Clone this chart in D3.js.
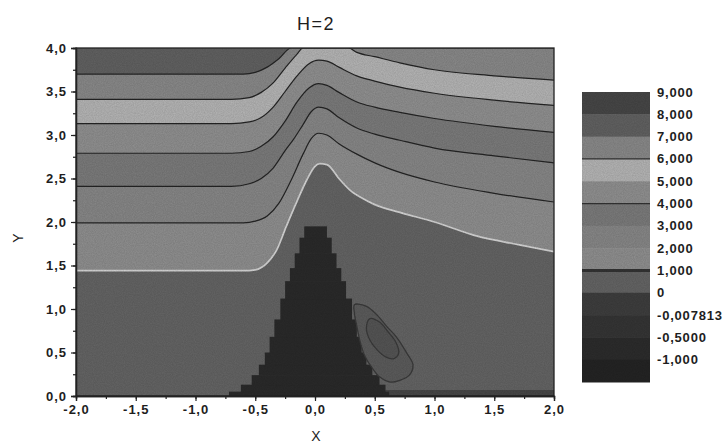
<!DOCTYPE html>
<html>
<head>
<meta charset="utf-8">
<script src="https://cdn.jsdelivr.net/npm/d3@7"></script>
<style>
  body { margin: 0; background: #fff; }
  text { font-family: "Liberation Sans", Arial, sans-serif; fill: #1e1e1e; }
</style>
</head>
<body>
<svg id="chart" width="726" height="446"></svg>
<script>
// Contour levels shown in the colour bar (top to bottom) and their labels
const levelLabels = ["9,000", "8,000", "7,000", "6,000", "5,000", "4,000", "3,000",
                     "2,000", "1,000", "0", "-0,007813", "-0,5000", "-1,000"];
// Fill of the band lying just below each level
const bandColors = ["#474747", "#626262", "#8a8a8a", "#b6b6b6", "#919191", "#7c7c7c",
                    "#888888", "#909090", "#656565", "#3e3e3e", "#353535", "#2c2c2c", "#242424"];

// Stream-line contours, [x, y] points
const level7 = [[-2, 3.70], [-0.6, 3.70], [-0.5, 3.72], [-0.4, 3.78], [-0.3, 3.88], [-0.2, 4.0], [2.0, 4.0]];
const level6 = [[-2, 3.41], [-0.7, 3.41], [-0.55, 3.43], [-0.45, 3.49], [-0.35, 3.60], [-0.25, 3.77],
                [-0.15, 3.93], [-0.1, 4.0], [0.28, 4.0], [0.35, 3.95], [0.5, 3.90], [0.71, 3.83],
                [1.0, 3.75], [1.5, 3.68], [2.0, 3.63]];
const level5 = [[-2, 3.13], [-0.7, 3.13], [-0.55, 3.15], [-0.45, 3.20], [-0.35, 3.32], [-0.25, 3.50],
                [-0.15, 3.68], [-0.05, 3.82], [0.03, 3.86], [0.1, 3.85], [0.2, 3.78], [0.35, 3.68],
                [0.5, 3.62], [0.71, 3.55], [1.0, 3.48], [1.5, 3.40], [2.0, 3.34]];
const level4 = [[-2, 2.79], [-0.7, 2.79], [-0.55, 2.81], [-0.45, 2.87], [-0.35, 2.98], [-0.25, 3.16],
                [-0.15, 3.38], [-0.05, 3.54], [0.03, 3.59], [0.1, 3.57], [0.2, 3.49], [0.35, 3.38],
                [0.5, 3.32], [0.71, 3.26], [1.0, 3.19], [1.5, 3.10], [2.0, 3.03]];
const level3 = [[-2, 2.41], [-0.7, 2.41], [-0.55, 2.44], [-0.45, 2.50], [-0.35, 2.62], [-0.25, 2.82],
                [-0.18, 2.95], [-0.1, 3.12], [-0.03, 3.27], [0.03, 3.32], [0.1, 3.30], [0.2, 3.20],
                [0.35, 3.08], [0.5, 3.01], [0.71, 2.94], [1.0, 2.85], [1.5, 2.76], [2.0, 2.68]];
const level2 = [[-2, 1.99], [-0.6, 1.99], [-0.5, 2.01], [-0.4, 2.07], [-0.3, 2.22], [-0.2, 2.48],
                [-0.1, 2.78], [-0.03, 2.96], [0.03, 3.02], [0.1, 3.00], [0.2, 2.90], [0.35, 2.78],
                [0.5, 2.68], [0.71, 2.57], [1.0, 2.46], [1.5, 2.33], [2.0, 2.23]];
const level1 = [[-2, 1.44], [-0.6, 1.44], [-0.5, 1.45], [-0.4, 1.53], [-0.32, 1.68], [-0.24, 1.95],
                [-0.15, 2.24], [-0.07, 2.48], [0.0, 2.64], [0.04, 2.67], [0.1, 2.66], [0.2, 2.50],
                [0.29, 2.37], [0.4, 2.27], [0.5, 2.20], [0.71, 2.11], [1.0, 2.00], [1.35, 1.84],
                [1.7, 1.74], [2.0, 1.66]];
const contours = [
  { band: 2, pts: level7 }, { band: 3, pts: level6 }, { band: 4, pts: level5 },
  { band: 5, pts: level4 }, { band: 6, pts: level3 }, { band: 7, pts: level2 },
  { band: 8, pts: level1, light: true }
];

// Stepped core of negative values: rows of [yBottom, yTop, xLeft, xRight]
const coreRows = [
  [0.00, 0.05, -0.72, 0.62], [0.05, 0.13, -0.62, 0.59], [0.13, 0.24, -0.53, 0.54],
  [0.24, 0.36, -0.47, 0.48], [0.36, 0.50, -0.42, 0.43], [0.50, 0.68, -0.38, 0.39],
  [0.68, 0.88, -0.34, 0.35], [0.88, 1.12, -0.29, 0.31], [1.12, 1.32, -0.25, 0.26],
  [1.32, 1.47, -0.21, 0.22], [1.47, 1.64, -0.17, 0.18], [1.64, 1.82, -0.13, 0.14],
  [1.82, 1.95, -0.09, 0.10]
];
// Small closed eddy beside the core
const eddyOuter = [[0.33, 1.05], [0.43, 1.03], [0.52, 0.93], [0.60, 0.80], [0.68, 0.68], [0.77, 0.49],
                   [0.82, 0.36], [0.79, 0.24], [0.71, 0.18], [0.63, 0.16], [0.54, 0.22], [0.47, 0.34],
                   [0.42, 0.45], [0.38, 0.61], [0.35, 0.80], [0.33, 0.95]];
const eddyInner = [[0.46, 0.89], [0.54, 0.85], [0.61, 0.74], [0.68, 0.61], [0.70, 0.49], [0.66, 0.43],
                   [0.59, 0.45], [0.52, 0.53], [0.46, 0.64], [0.43, 0.78]];
// Thin strip of low values along the floor
const floorStrip = [[0.56, 0], [0.58, 0.07], [2.0, 0.07], [2.0, 0]];

const xTicks = [-2, -1.5, -1, -0.5, 0, 0.5, 1, 1.5, 2];
const yTicks = [0, 0.5, 1, 1.5, 2, 2.5, 3, 3.5, 4];

const svg = d3.select("#chart");
const x = d3.scaleLinear().domain([-2, 2]).range([76, 554]);
const y = d3.scaleLinear().domain([0, 4]).range([396, 48]);
const locale = d3.formatLocale({ decimal: ",", thousands: ".", grouping: [3], currency: ["", ""], minus: "-" });
const fmt = locale.format(".1f");

const defs = svg.append("defs");
defs.append("clipPath").attr("id", "plotClip")
  .append("rect").attr("x", x(-2)).attr("y", y(4))
  .attr("width", x(2) - x(-2)).attr("height", y(0) - y(4));
// fine print grain over the filled areas
const grain = defs.append("filter").attr("id", "grain")
  .attr("x", 0).attr("y", 0).attr("width", 1).attr("height", 1);
grain.append("feTurbulence").attr("type", "fractalNoise").attr("baseFrequency", 0.9)
  .attr("numOctaves", 2).attr("seed", 3).attr("result", "noise");
grain.append("feColorMatrix").attr("in", "noise").attr("type", "matrix")
  .attr("values", "0 0 0 0 0  0 0 0 0 0  0 0 0 0 0  0 0 0 0.16 0").attr("result", "dots");
grain.append("feComposite").attr("in", "dots").attr("in2", "SourceGraphic").attr("operator", "in");

const plot = svg.append("g").attr("clip-path", "url(#plotClip)");

// top band
plot.append("rect").attr("x", x(-2)).attr("y", y(4))
  .attr("width", x(2) - x(-2)).attr("height", y(0) - y(4))
  .attr("fill", bandColors[1]);

const area = d3.area().x(d => x(d[0])).y0(y(0)).y1(d => y(d[1])).curve(d3.curveMonotoneX);
const line = d3.line().x(d => x(d[0])).y(d => y(d[1])).curve(d3.curveMonotoneX);

contours.forEach(c => {
  plot.append("path").attr("d", area(c.pts)).attr("fill", bandColors[c.band]);
});
contours.forEach(c => {
  plot.append("path").attr("d", line(c.pts)).attr("fill", "none")
    .attr("stroke", c.light ? "#d8d8d8" : "#242424")
    .attr("stroke-width", c.light ? 1.7 : 1.2);
});

// floor strip
plot.append("path").attr("d", d3.line().x(d => x(d[0])).y(d => y(d[1]))(floorStrip) + "Z")
  .attr("fill", "#474747");

// stepped core
plot.selectAll(".core").data(coreRows).join("rect")
  .attr("x", d => x(d[2])).attr("y", d => y(d[1]))
  .attr("width", d => x(d[3]) - x(d[2])).attr("height", d => y(d[0]) - y(d[1]) + 0.5)
  .attr("fill", "#2a2a2a");

// eddy
const closed = d3.line().x(d => x(d[0])).y(d => y(d[1])).curve(d3.curveCatmullRomClosed);
plot.append("path").attr("d", closed(eddyOuter)).attr("fill", "#5c5c5c")
  .attr("stroke", "#3a3a3a").attr("stroke-width", 1.3);
plot.append("path").attr("d", closed(eddyInner)).attr("fill", "#555555")
  .attr("stroke", "#3a3a3a").attr("stroke-width", 1.3);

// grain layer over the field
plot.append("rect").attr("x", x(-2)).attr("y", y(4))
  .attr("width", x(2) - x(-2)).attr("height", y(0) - y(4))
  .attr("fill", "#000").attr("filter", "url(#grain)");

// frame
svg.append("rect").attr("x", x(-2)).attr("y", y(4))
  .attr("width", x(2) - x(-2)).attr("height", y(0) - y(4))
  .attr("fill", "none").attr("stroke", "#222").attr("stroke-width", 1.3);

// axes
const axisFont = g => g.selectAll("text")
  .style("font-size", "13px").style("font-weight", "bold").style("letter-spacing", "1px")
  .attr("fill", "#1e1e1e");
const styleAxis = g => { g.select(".domain").attr("stroke", "#222").attr("stroke-width", 1.3);
                         g.selectAll("line").attr("stroke", "#222").attr("stroke-width", 1.2); };

const xMinor = d3.range(-2, 2.001, 0.25);
const yMinor = d3.range(0, 4.001, 0.25);
svg.append("g").attr("transform", `translate(0,${y(0)})`)
  .call(d3.axisBottom(x).tickValues(xMinor).tickSize(3).tickFormat(""))
  .call(styleAxis);
svg.append("g").attr("transform", `translate(${x(-2)},0)`)
  .call(d3.axisLeft(y).tickValues(yMinor).tickSize(3).tickFormat(""))
  .call(styleAxis);
svg.append("g").attr("transform", `translate(0,${y(0)})`)
  .call(d3.axisBottom(x).tickValues(xTicks).tickSize(5).tickPadding(4).tickFormat(fmt))
  .call(styleAxis).call(axisFont);
svg.append("g").attr("transform", `translate(${x(-2)},0)`)
  .call(d3.axisLeft(y).tickValues(yTicks).tickSize(5).tickPadding(4).tickFormat(fmt))
  .call(styleAxis).call(axisFont);

// titles
svg.append("text").attr("x", 316).attr("y", 30).attr("text-anchor", "middle")
  .style("font-size", "18px").style("letter-spacing", "1.5px").text("H=2");
svg.append("text").attr("x", 316).attr("y", 441).attr("text-anchor", "middle")
  .style("font-size", "14px").text("X");
svg.append("text").attr("transform", "translate(23,238) rotate(-90)").attr("text-anchor", "middle")
  .style("font-size", "14px").text("Y");

// colour bar
const ly = d3.scaleLinear().domain([0, levelLabels.length]).range([92, 382]);
const bar = svg.append("g");
bar.selectAll("rect.band").data(bandColors).join("rect").attr("class", "band")
  .attr("x", 582).attr("width", 68)
  .attr("y", (d, i) => ly(i)).attr("height", (d, i) => ly(i + 1) - ly(i) + 0.5)
  .attr("fill", d => d);
[[3, 1.2], [5, 1.2], [8, 3]].forEach(([i, w]) => {
  bar.append("line").attr("x1", 582).attr("x2", 650).attr("y1", ly(i)).attr("y2", ly(i))
    .attr("stroke", "#333").attr("stroke-width", w);
});
bar.append("rect").attr("x", 582).attr("y", ly(0)).attr("width", 68).attr("height", ly(13) - ly(0))
  .attr("fill", "#000").attr("filter", "url(#grain)");
bar.selectAll("text").data(levelLabels).join("text")
  .attr("x", 657).attr("y", (d, i) => ly(i)).attr("dy", "0.35em")
  .style("font-size", "13px").style("font-weight", "bold").style("letter-spacing", "0.8px")
  .text(d => d);
</script>
</body>
</html>
